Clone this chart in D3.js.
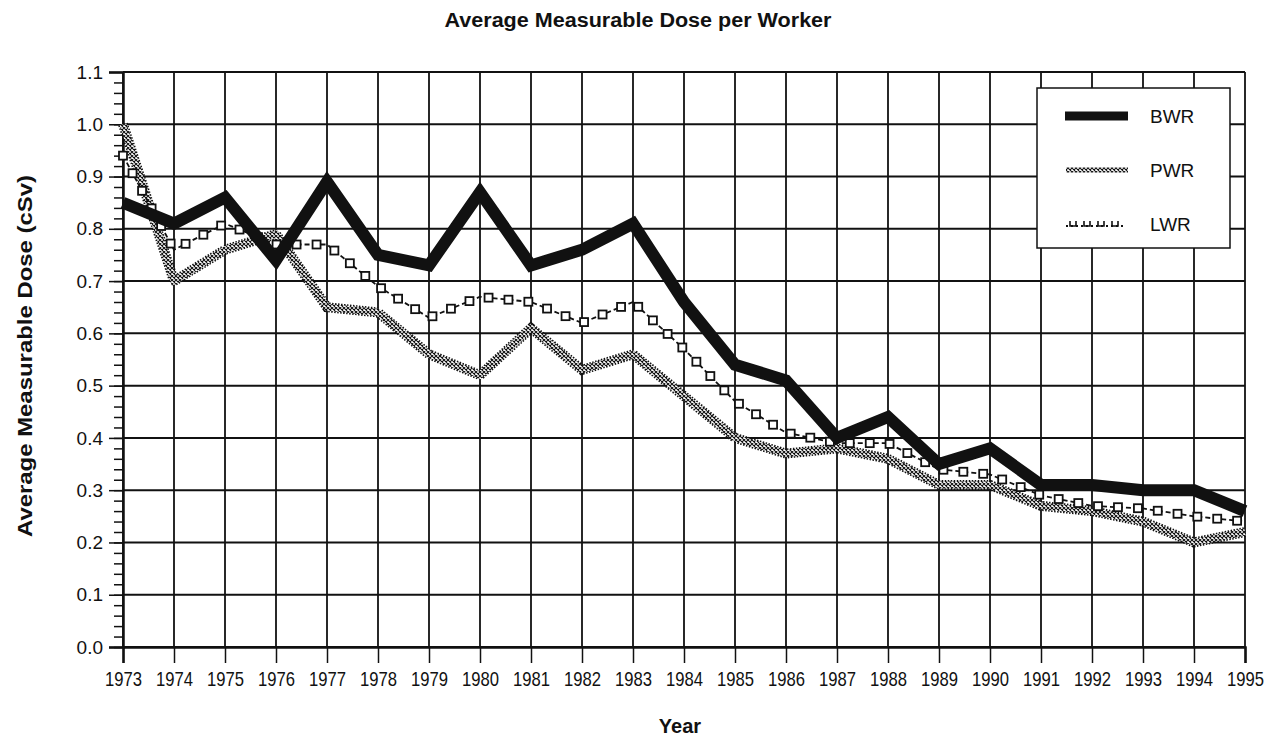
<!DOCTYPE html>
<html>
<head>
<meta charset="utf-8">
<script src="https://cdn.jsdelivr.net/npm/d3@7"></script>
<style>
  body { margin: 0; background: #fff; }
  text { font-family: "Liberation Sans", Arial, sans-serif; fill: #111; }
</style>
</head>
<body>
<script>
const years = d3.range(1973, 1996);
const bwr = [0.85, 0.81, 0.86, 0.74, 0.89, 0.75, 0.73, 0.87, 0.73, 0.76, 0.81, 0.66,
             0.54, 0.51, 0.40, 0.44, 0.35, 0.38, 0.31, 0.31, 0.30, 0.30, 0.26];
const pwr = [1.00, 0.70, 0.76, 0.79, 0.65, 0.64, 0.56, 0.52, 0.61, 0.53, 0.56, 0.48,
             0.40, 0.37, 0.38, 0.36, 0.31, 0.31, 0.27, 0.26, 0.24, 0.20, 0.22];
const lwr = [0.94, 0.76, 0.81, 0.77, 0.77, 0.69, 0.63, 0.67, 0.66, 0.62, 0.66, 0.57,
             0.47, 0.41, 0.39, 0.39, 0.34, 0.33, 0.29, 0.27, 0.265, 0.25, 0.24];
const yTicks = d3.range(0, 1.11, 0.1);
const seriesNames = ["BWR", "PWR", "LWR"];

const W = 1275, H = 743;
const margin = {left: 123, right: 30, top: 72, bottom: 96};

const svg = d3.select("body").append("svg")
  .attr("width", W).attr("height", H);

const defs = svg.append("defs");
const hatch = defs.append("pattern")
  .attr("id", "hatch")
  .attr("patternUnits", "userSpaceOnUse")
  .attr("width", 4).attr("height", 4);
hatch.append("rect").attr("width", 4).attr("height", 4).attr("fill", "#fff");
hatch.append("path").attr("d", "M0,4 L4,0 M0,0 L4,4")
  .attr("stroke", "#111").attr("stroke-width", 1.1);

const x = d3.scaleLinear().domain([1973, 1995]).range([margin.left, W - margin.right]);
const y = d3.scaleLinear().domain([0, 1.1]).range([H - margin.bottom, margin.top]);

// grid
const grid = svg.append("g");
grid.selectAll("line.v").data(years).enter().append("line")
  .attr("x1", d => x(d)).attr("x2", d => x(d))
  .attr("y1", y(0)).attr("y2", y(1.1))
  .attr("stroke", "#111").attr("stroke-width", 1.8);
grid.selectAll("line.h").data(yTicks).enter().append("line")
  .attr("x1", x(1973)).attr("x2", x(1995))
  .attr("y1", d => y(d)).attr("y2", d => y(d))
  .attr("stroke", "#111").attr("stroke-width", 2);

// y axis with minor ticks
svg.append("g").attr("class", "yax").attr("transform", `translate(${x(1973)},0)`)
  .call(d3.axisLeft(y).tickValues(yTicks).tickFormat(d3.format(".1f")).tickSize(14).tickPadding(6));
svg.append("g").attr("transform", `translate(${x(1973)},0)`)
  .call(d3.axisLeft(y).tickValues(d3.range(0, 1.1, 0.02)).tickFormat("").tickSize(9))
  .select(".domain").remove();

// x axis
svg.append("g").attr("class", "xax").attr("transform", `translate(0,${y(0)})`)
  .call(d3.axisBottom(x).tickValues(years).tickFormat(d3.format("d")).tickSize(16).tickPadding(8));

svg.selectAll(".tick line").attr("stroke", "#111").attr("stroke-width", 1.5);
svg.selectAll(".domain").attr("stroke", "#111").attr("stroke-width", 2.5);
svg.selectAll(".tick text").attr("fill", "#111")
  .attr("font-family", "Liberation Sans, Arial, sans-serif");
svg.select(".yax").attr("font-size", 19).selectAll(".tick text").attr("font-size", 19);
svg.select(".xax").attr("font-size", 21).selectAll(".tick text").attr("font-size", 21)
  .attr("textLength", 37).attr("lengthAdjust", "spacingAndGlyphs");

const line = d3.line().x((d, i) => x(years[i])).y(d => y(d));

// PWR hatched band: dotted edges plus cross-hatched fill
svg.append("path").datum(pwr)
  .attr("d", line).attr("fill", "none")
  .attr("stroke", "#111").attr("stroke-width", 10)
  .attr("stroke-dasharray", "1.5,1.5");
svg.append("path").datum(pwr)
  .attr("d", line).attr("fill", "none")
  .attr("stroke", "url(#hatch)").attr("stroke-width", 7);

// LWR: thin broken line with open squares
const lwrPath = svg.append("path").datum(lwr)
  .attr("d", line).attr("fill", "none")
  .attr("stroke", "#111").attr("stroke-width", 1.8)
  .attr("stroke-dasharray", "5,3");
const lwrNode = lwrPath.node();
const total = lwrNode.getTotalLength();
const marks = d3.range(0, total, 20).map(l => lwrNode.getPointAtLength(l));
svg.append("g").selectAll("rect").data(marks).enter().append("rect")
  .attr("x", d => d.x - 4).attr("y", d => d.y - 4)
  .attr("width", 8).attr("height", 8)
  .attr("fill", "#fff").attr("stroke", "#111").attr("stroke-width", 1.8);

// BWR thick line
svg.append("path").datum(bwr)
  .attr("d", line).attr("fill", "none")
  .attr("stroke", "#111").attr("stroke-width", 12)
  .attr("stroke-linejoin", "miter");

// legend
const lg = svg.append("g");
lg.append("rect").attr("x", 1037).attr("y", 88).attr("width", 193).attr("height", 160)
  .attr("fill", "#fff").attr("stroke", "#111").attr("stroke-width", 1.5);
const ly = d3.scalePoint().domain(seriesNames).range([116, 224]);
lg.append("line").attr("x1", 1065).attr("x2", 1128)
  .attr("y1", ly("BWR")).attr("y2", ly("BWR"))
  .attr("stroke", "#111").attr("stroke-width", 9);
lg.append("line").attr("x1", 1066).attr("x2", 1128)
  .attr("y1", ly("PWR")).attr("y2", ly("PWR"))
  .attr("stroke", "url(#hatch)").attr("stroke-width", 5);
lg.append("line").attr("x1", 1066).attr("x2", 1126)
  .attr("y1", ly("LWR") + 2).attr("y2", ly("LWR") + 2)
  .attr("stroke", "#111").attr("stroke-width", 1.8).attr("stroke-dasharray", "2,3");
lg.selectAll("path.m").data(d3.range(1070, 1126, 14)).enter().append("path")
  .attr("d", d => `M${d},${ly("LWR") - 3}v5h6v-5`)
  .attr("fill", "none").attr("stroke", "#111").attr("stroke-width", 1.6);
lg.selectAll("text").data(seriesNames).enter().append("text")
  .attr("x", 1150).attr("y", d => ly(d) + 7)
  .attr("font-size", 19).text(d => d);

// titles
svg.append("text").attr("x", 638).attr("y", 27).attr("text-anchor", "middle")
  .attr("font-size", 20).attr("font-weight", "bold")
  .attr("textLength", 387).attr("lengthAdjust", "spacingAndGlyphs")
  .text("Average Measurable Dose per Worker");
svg.append("text").attr("x", 680).attr("y", 733).attr("text-anchor", "middle")
  .attr("font-size", 20).attr("font-weight", "bold").text("Year");
svg.append("text")
  .attr("transform", "translate(32,356) rotate(-90)")
  .attr("text-anchor", "middle")
  .attr("font-size", 20).attr("font-weight", "bold")
  .attr("textLength", 362).attr("lengthAdjust", "spacingAndGlyphs")
  .text("Average Measurable Dose (cSv)");
</script>
</body>
</html>
